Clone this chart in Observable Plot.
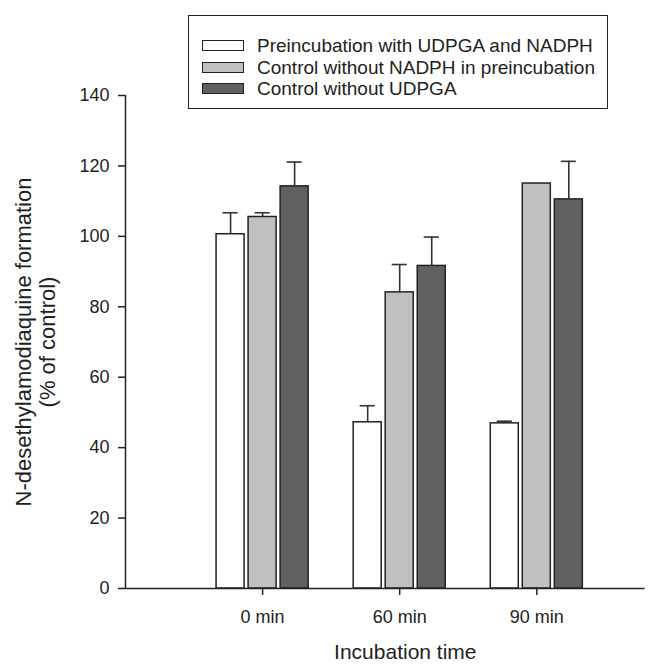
<!DOCTYPE html>
<html>
<head>
<meta charset="utf-8">
<script src="https://cdn.jsdelivr.net/npm/d3@7"></script>
<script src="https://cdn.jsdelivr.net/npm/@observablehq/plot@0.6"></script>
<style>
  html, body { margin: 0; padding: 0; background: #fff; }
  #wrap { position: relative; width: 668px; height: 669px; font-family: "Liberation Sans", Arial, sans-serif; color: #222; }
  #legend { position: absolute; left: 188px; top: 15px; width: 420px; height: 94px; box-sizing: border-box;
            border: 1.5px solid #222; padding: 19px 0 0 13px; background: #fff; }
  .row { display: flex; align-items: center; height: 21.5px; font-size: 19px; line-height: 1; white-space: nowrap; }
  .sw { width: 42px; height: 11px; box-sizing: border-box; border: 1.5px solid #222; margin-right: 13px; flex: none; }
</style>
</head>
<body>
<div id="wrap"><div id="legend"></div></div>
<script>
// ---- data ----
const groups = ["0 min", "60 min", "90 min"];
const seriesNames = [
  "Preincubation with UDPGA and NADPH",
  "Control without NADPH in preincubation",
  "Control without UDPGA"
];
const seriesColors = ["#ffffff", "#c0c0c0", "#606060"];
const meanPreinc = [100.6, 47.2, 46.9];
const meanNoNADPH = [105.5, 84.1, 115.0];
const meanNoUDPGA = [114.2, 91.6, 110.5];
const sdPreinc = [6.1, 4.7, 0.6];
const sdNoNADPH = [1.2, 7.9, 0];
const sdNoUDPGA = [6.9, 8.2, 10.8];
const yTicks = [0, 20, 40, 60, 80, 100, 120, 140];

// ---- layout constants (x in group units) ----
const pitch = 0.2336, barW = 0.2044, capHalf = 0.055, xMax = 3.79;

const means = [meanPreinc, meanNoNADPH, meanNoUDPGA];
const sds = [sdPreinc, sdNoNADPH, sdNoUDPGA];
const table = [];
groups.forEach((g, gi) => {
  seriesNames.forEach((s, si) => {
    const c = gi + 1 + (si - 1) * pitch;
    table.push({group: g, series: s, mean: means[si][gi], sd: sds[si][gi], c,
                x1: c - barW / 2, x2: c + barW / 2, cx1: c - capHalf, cx2: c + capHalf});
  });
});
const errs = table.filter(d => d.sd > 0);

const chart = Plot.plot({
  width: 668, height: 669,
  marginLeft: 125, marginRight: 668 - 125 - 137.1 * xMax, marginTop: 95, marginBottom: 81,
  style: {fontFamily: "Liberation Sans, Arial, sans-serif", color: "#222", background: "transparent"},
  x: {domain: [0, xMax], axis: null},
  y: {domain: [0, 140], axis: null},
  color: {domain: seriesNames, range: seriesColors},
  marks: [
    Plot.rect(table, {x1: "x1", x2: "x2", y1: 0, y2: "mean", fill: "series", stroke: "#222", strokeWidth: 1.5}),
    Plot.ruleX(errs, {x: "c", y1: "mean", y2: d => d.mean + d.sd, stroke: "#333", strokeWidth: 1.6}),
    Plot.ruleY(errs, {x1: "cx1", x2: "cx2", y: d => d.mean + d.sd, stroke: "#333", strokeWidth: 1.6}),
    Plot.ruleX([0], {y1: 0, y2: 140, stroke: "#222", strokeWidth: 1.5}),
    Plot.ruleY([0], {stroke: "#222", strokeWidth: 1.5}),
    Plot.axisY({ticks: yTicks, tickSize: 7, tickPadding: 9, fontSize: 18, label: null, strokeWidth: 1.5}),
    Plot.axisX({ticks: [1, 2, 3], tickFormat: i => groups[i - 1], tickSize: 7, tickPadding: 15, fontSize: 18, label: null, strokeWidth: 1.5}),
    Plot.text(["Incubation time"], {frameAnchor: "bottom", textAnchor: "middle", lineAnchor: "middle", dx: 20, dy: 64, fontSize: 21, fill: "#222"}),
    Plot.text(["N-desethylamodiaquine formation\n(% of control)"], {frameAnchor: "left", textAnchor: "middle", lineAnchor: "middle", rotate: -90, dx: -90, lineHeight: 1.1, fontSize: 22, fill: "#222"})
  ]
});
const wrap = document.getElementById("wrap");
wrap.insertBefore(chart, wrap.firstChild);

const legend = document.getElementById("legend");
seriesNames.forEach((s, i) => {
  const row = document.createElement("div");
  row.className = "row";
  const sw = document.createElement("span");
  sw.className = "sw";
  sw.style.background = seriesColors[i];
  row.appendChild(sw);
  row.appendChild(document.createTextNode(s));
  legend.appendChild(row);
});
</script>
</body>
</html>
